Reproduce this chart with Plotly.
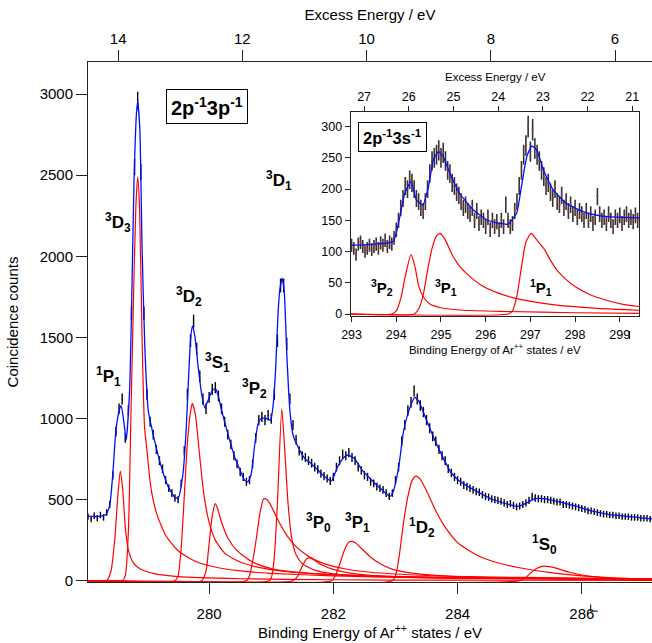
import math
import plotly.graph_objects as go

# ---------------- main spectrum (2p-1 3p-1) ----------------
main_be_start = 278.05
main_be_step = 0.05
main_counts = [
    395, 380, 400, 385, 405, 390, 420, 470, 650, 920,
    1060, 1120, 880, 1050, 1650, 2550, 2960, 2520, 1650, 1150,
    980, 900, 810, 740, 690, 620, 570, 540, 510, 500,
    600, 800, 1150, 1480, 1600, 1430, 1260, 1120, 1060, 1130,
    1180, 1190, 1140, 1060, 980, 900, 840, 770, 720, 670,
    640, 610, 620, 720, 880, 990, 1010, 990, 1020, 1000,
    1150, 1480, 1820, 1820, 1460, 1120, 960, 870, 800, 770,
    760, 740, 725, 700, 685, 660, 645, 630, 615, 640,
    700, 740, 780, 770, 790, 760, 740, 700, 680, 650,
    640, 610, 600, 580, 570, 560, 540, 520, 540, 620,
    700, 860, 960, 1050, 1100, 1170, 1120, 1080, 1040, 990,
    940, 890, 860, 810, 770, 740, 690, 665, 640, 620,
    610, 590, 580, 570, 560, 550, 545, 530, 520, 515,
    505, 500, 495, 490, 480, 470, 475, 465, 455, 460,
    470, 480, 495, 520, 510, 505, 505, 500, 500, 495,
    490, 485, 485, 470, 470, 465, 460, 455, 450, 445,
    440, 430, 430, 425, 420, 415, 410, 410, 405, 405,
    400, 400, 395, 395, 395, 390, 390, 390, 385, 385,
    385, 380,
]
main_be = [round(main_be_start + i * main_be_step, 3) for i in range(len(main_counts))]

fit_be = [278.05, 278.21, 278.34, 278.40, 278.45, 278.50, 278.56, 278.585, 278.63, 278.665,
          278.72, 278.75, 278.79, 278.83, 278.85, 278.885, 278.92, 278.965, 279.02, 279.12,
          279.23, 279.34, 279.44, 279.50, 279.58, 279.63, 279.66, 279.70, 279.73, 279.77,
          279.82, 279.88, 279.93, 279.98, 280.05, 280.10, 280.14, 280.20, 280.30, 280.41,
          280.52, 280.57, 280.625, 280.68, 280.73, 280.79, 280.84, 280.92, 280.99, 281.03,
          281.07, 281.11, 281.14, 281.175, 281.21, 281.25, 281.30, 281.35, 281.43, 281.54,
          281.64, 281.75, 281.86, 281.97, 282.07, 282.18, 282.23, 282.34, 282.45, 282.59,
          282.75, 282.91, 282.96, 283.05, 283.13, 283.23, 283.31, 283.37, 283.50, 283.64,
          283.77, 283.90, 284.04, 284.31, 284.575, 284.84, 284.98, 285.11, 285.25, 285.38,
          285.65, 285.92, 286.19, 286.45, 286.72, 287.00, 287.13]
fit_counts = [398, 396, 410, 466, 662, 929, 1062, 1080, 970, 867,
              1175, 1650, 2450, 2880, 2955, 2780, 2060, 1440, 1050, 867,
              703, 580, 518, 508, 662, 929, 1175, 1480, 1570, 1510,
              1330, 1150, 1065, 1110, 1170, 1185, 1150, 1052, 908, 764,
              662, 620, 610, 662, 826, 970, 1000, 1000, 990, 1080,
              1300, 1650, 1800, 1865, 1780, 1400, 1050, 900, 826, 754,
              723, 682, 641, 616, 703, 764, 775, 754, 690, 630,
              571, 520, 545, 695, 921, 1064, 1130, 1110, 990, 860,
              756, 664, 612, 551, 499, 469, 458, 479, 506, 506,
              485, 458, 427, 407, 397, 386, 382]

# fitted components (binding energy, counts)
c_1P1_be = [278.05, 278.35, 278.42, 278.48, 278.53, 278.57, 278.61, 278.65, 278.70, 278.78, 278.90, 279.10, 279.50, 280.50, 282.00, 284.00, 287.13]
c_1P1_ct = [0, 0, 60, 250, 520, 676, 560, 330, 190, 110, 70, 45, 25, 12, 6, 3, 2]

c_3D3_be = [278.05, 278.60, 278.65, 278.70, 278.74, 278.78, 278.82, 278.85, 278.88, 278.92, 278.96, 279.00, 279.06, 279.15, 279.30, 279.50, 279.75, 280.00, 280.50, 281.00, 282.00, 283.00, 285.00, 287.13]
c_3D3_ct = [0, 0, 30, 300, 1000, 1700, 2300, 2490, 2300, 1500, 950, 800, 580, 420, 280, 185, 125, 92, 60, 45, 30, 22, 14, 10]

c_3D2_be = [278.05, 279.45, 279.50, 279.55, 279.60, 279.65, 279.70, 279.73, 279.78, 279.85, 279.92, 280.00, 280.10, 280.25, 280.50, 280.80, 281.20, 282.00, 283.00, 285.00, 287.13]
c_3D2_ct = [0, 0, 30, 200, 520, 850, 1040, 1093, 1020, 760, 520, 360, 250, 170, 115, 82, 58, 38, 25, 15, 10]

c_3S1_be = [278.05, 279.88, 279.95, 280.00, 280.05, 280.10, 280.14, 280.20, 280.30, 280.45, 280.70, 281.00, 281.50, 282.50, 284.00, 287.13]
c_3S1_ct = [0, 0, 60, 230, 400, 475, 440, 360, 265, 185, 115, 75, 48, 30, 18, 10]

c_3P2_be = [278.05, 280.60, 280.65, 280.70, 280.76, 280.82, 280.88, 280.93, 281.00, 281.10, 281.25, 281.40, 281.60, 281.85, 282.20, 282.60, 283.50, 285.00, 287.13]
c_3P2_ct = [0, 0, 30, 120, 260, 420, 505, 500, 460, 380, 280, 210, 150, 105, 72, 52, 32, 20, 12]

c_3D1_be = [278.05, 280.97, 281.01, 281.05, 281.10, 281.17, 281.22, 281.27, 281.33, 281.40, 281.50, 281.70, 282.00, 282.50, 283.50, 285.00, 287.13]
c_3D1_ct = [0, 0, 30, 150, 480, 1060, 790, 480, 260, 160, 105, 65, 42, 28, 18, 12, 8]

c_3P0_be = [278.05, 281.35, 281.42, 281.50, 281.57, 281.62, 281.70, 281.80, 282.00, 282.30, 282.80, 284.00, 287.13]
c_3P0_ct = [0, 0, 25, 90, 135, 140, 125, 100, 70, 45, 28, 15, 6]

c_3P1_be = [278.05, 281.97, 282.03, 282.10, 282.17, 282.24, 282.29, 282.35, 282.45, 282.60, 282.80, 283.00, 283.40, 284.00, 285.00, 287.13]
c_3P1_ct = [0, 0, 30, 100, 180, 235, 243, 235, 200, 145, 95, 65, 40, 25, 15, 8]

c_1D2_be = [278.05, 282.95, 283.00, 283.06, 283.12, 283.20, 283.27, 283.33, 283.40, 283.50, 283.65, 283.80, 284.00, 284.30, 284.60, 285.00, 285.50, 286.00, 286.50, 287.13]
c_1D2_ct = [0, 0, 30, 150, 330, 520, 620, 645, 625, 555, 430, 330, 235, 160, 115, 80, 50, 30, 18, 10]

c_1S0_be = [278.05, 285.00, 285.08, 285.17, 285.27, 285.38, 285.50, 285.65, 285.80, 286.00, 286.30, 286.70, 287.13]
c_1S0_ct = [0, 0, 15, 45, 75, 90, 85, 70, 52, 35, 20, 10, 5]

# ---------------- inset spectrum (2p-1 3s-1) ----------------
inset_be_start = 293.0
inset_be_step = 0.05
inset_counts = [
    110, 105, 95, 112, 115, 108, 100, 105, 110, 103,
    108, 112, 105, 114, 110, 118, 108, 115, 112, 122,
    135, 150, 170, 185, 205, 200, 215, 210, 200, 185,
    180, 170, 165, 180, 200, 225, 245, 250, 255, 262,
    250, 258, 245, 230, 225, 210, 205, 195, 190, 180,
    170, 175, 165, 160, 170, 150, 165, 145, 155, 150,
    140, 155, 135, 150, 140, 148, 135, 150, 140, 175,
    150, 140, 145, 165, 180, 205, 230, 255, 270, 300,
    260, 295, 265, 255, 245, 230, 220, 205, 210, 195,
    185, 200, 180, 175, 190, 170, 180, 165, 175, 160,
    170, 155, 165, 160, 150, 165, 150, 160, 145, 155,
    188, 160, 150, 155, 145, 160, 150, 140, 155, 150,
    158, 145, 155, 160, 150, 155, 148, 158, 150,
]
inset_be = [round(inset_be_start + i * inset_be_step, 3) for i in range(len(inset_counts))]

ifit_be = [292.98, 293.50, 293.93, 294.08, 294.19, 294.33, 294.45, 294.59, 294.72, 294.83,
           294.94, 295.05, 295.20, 295.42, 295.72, 296.02, 296.32, 296.50, 296.69, 296.80,
           296.92, 297.03, 297.14, 297.29, 297.51, 297.81, 298.18, 298.56, 298.93, 299.43]
ifit_counts = [110, 112, 116, 156, 193, 212, 183, 174, 204, 247,
               260, 252, 225, 193, 167, 151, 145, 144, 161, 204,
               252, 269, 263, 231, 199, 177, 164, 157, 155, 154]

i_3P2_be = [292.98, 293.90, 294.00, 294.10, 294.20, 294.33, 294.42, 294.50, 294.60, 294.75, 295.00, 295.50, 296.50, 298.00, 299.43]
i_3P2_ct = [0, 0, 5, 25, 60, 95, 75, 45, 28, 16, 10, 6, 4, 2, 1]
i_3P1_be = [292.98, 294.40, 294.50, 294.60, 294.70, 294.80, 294.90, 294.98, 295.10, 295.25, 295.40, 295.60, 295.90, 296.30, 296.80, 297.50, 298.50, 299.43]
i_3P1_ct = [0, 0, 8, 30, 70, 105, 125, 129, 118, 95, 78, 63, 46, 33, 23, 15, 9, 6]
i_1P1_be = [292.98, 296.50, 296.60, 296.70, 296.80, 296.90, 297.02, 297.15, 297.30, 297.45, 297.60, 297.80, 298.00, 298.30, 298.70, 299.10, 299.43]
i_1P1_ct = [0, 0, 5, 30, 75, 115, 129, 118, 105, 86, 70, 55, 44, 32, 22, 15, 12]

main_ticks = [280, 282, 284, 286]
main_yticks = [0, 500, 1000, 1500, 2000, 2500, 3000]
excess_ticks = [14, 12, 10, 8, 6]
inset_ticks = [293, 294, 295, 296, 297, 298, 299]
inset_yticks = [0, 50, 100, 150, 200, 250, 300]
inset_excess_ticks = [27, 26, 25, 24, 23, 22, 21]

# ---------------- figure ----------------
W, H = 652, 643
ML, MR, MT, MB = 88, 0, 62, 61
PW, PH = W - ML - MR, H - MT - MB


def px2paper(x, y):
    return (x - ML) / PW, (H - MB - y) / PH


FONT = "Liberation Sans, Arial, Helvetica, sans-serif"
RED = "#ff0000"
BLUE = "#0010ff"

fig = go.Figure()

# main data with error bars
fig.add_trace(go.Scatter(
    x=main_be, y=main_counts, mode="markers",
    marker=dict(size=1, color="black"),
    error_y=dict(type="data", array=[math.sqrt(c) for c in main_counts],
                 color="black", thickness=1.4, width=0),
    xaxis="x", yaxis="y", showlegend=False, hoverinfo="skip"))

for bx, by in [(c_1P1_be, c_1P1_ct), (c_3D3_be, c_3D3_ct), (c_3D2_be, c_3D2_ct),
               (c_3S1_be, c_3S1_ct), (c_3P2_be, c_3P2_ct), (c_3D1_be, c_3D1_ct),
               (c_3P0_be, c_3P0_ct), (c_3P1_be, c_3P1_ct), (c_1D2_be, c_1D2_ct),
               (c_1S0_be, c_1S0_ct)]:
    fig.add_trace(go.Scatter(x=bx, y=by, mode="lines",
                             line=dict(color=RED, width=1.2, shape="spline", smoothing=0.6),
                             xaxis="x", yaxis="y", showlegend=False, hoverinfo="skip"))

fig.add_trace(go.Scatter(x=fit_be, y=fit_counts, mode="lines",
                         line=dict(color=BLUE, width=1.3, shape="spline", smoothing=0.5),
                         xaxis="x", yaxis="y", showlegend=False, hoverinfo="skip"))

# invisible trace to carry the top (excess energy) axis
fig.add_trace(go.Scatter(x=[excess_ticks[0], excess_ticks[-1]], y=[0, 0], mode="markers",
                         marker=dict(opacity=0), xaxis="x2", yaxis="y",
                         showlegend=False, hoverinfo="skip"))

# inset
fig.add_trace(go.Scatter(
    x=inset_be, y=inset_counts, mode="markers",
    marker=dict(size=2, color="#cc2222"),
    error_y=dict(type="data", array=[math.sqrt(c) for c in inset_counts],
                 color="#333333", thickness=1.6, width=0),
    xaxis="x3", yaxis="y3", showlegend=False, hoverinfo="skip"))
for bx, by in [(i_3P2_be, i_3P2_ct), (i_3P1_be, i_3P1_ct), (i_1P1_be, i_1P1_ct)]:
    fig.add_trace(go.Scatter(x=bx, y=by, mode="lines",
                             line=dict(color=RED, width=1.2, shape="spline", smoothing=0.6),
                             xaxis="x3", yaxis="y3", showlegend=False, hoverinfo="skip"))
fig.add_trace(go.Scatter(x=ifit_be, y=ifit_counts, mode="lines",
                         line=dict(color=BLUE, width=1.3, shape="spline", smoothing=0.5),
                         xaxis="x3", yaxis="y3", showlegend=False, hoverinfo="skip"))
fig.add_trace(go.Scatter(x=[inset_excess_ticks[0], inset_excess_ticks[-1]], y=[0, 0],
                         mode="markers", marker=dict(opacity=0), xaxis="x4", yaxis="y3",
                         showlegend=False, hoverinfo="skip"))

axis_common = dict(showgrid=False, zeroline=False, showline=True, linecolor="#222222",
                   linewidth=1, ticks="outside", tickcolor="#222222", tickwidth=1)

ix0, iy0 = px2paper(350.7, 315.7)
ix1, iy1 = px2paper(639.0, 112.3)

fig.update_layout(
    width=W, height=H,
    margin=dict(l=ML, r=MR, t=MT, b=MB, autoexpand=False),
    paper_bgcolor="white", plot_bgcolor="white",
    font=dict(family=FONT, color="black"),
    xaxis=dict(domain=[0, 1], anchor="y", range=[278.05, 287.13], tickvals=main_ticks,
               ticklen=11, tickfont=dict(size=15), ticklabelstandoff=7,
               title=dict(text="Binding Energy of Ar<sup>++</sup> states / eV",
                          font=dict(size=15), standoff=4), **axis_common),
    yaxis=dict(domain=[0, 1], anchor="x", range=[-8, 3198], tickvals=main_yticks,
               ticklen=11, tickfont=dict(size=15),
               title=dict(text="Coincidence counts", font=dict(size=15), standoff=17),
               **axis_common),
    xaxis2=dict(overlaying="x", side="top", anchor="y", range=[14.485, 5.405],
                tickvals=excess_ticks, ticklen=11, tickfont=dict(size=15), ticklabelstandoff=0,
                title=dict(text="Excess Energy / eV", font=dict(size=15), standoff=5),
                **axis_common),
    xaxis3=dict(domain=[ix0, ix1], anchor="y3", range=[292.98, 299.43], tickvals=inset_ticks,
                ticklen=5, tickfont=dict(size=12.5), mirror=True, ticklabelstandoff=2,
                title=dict(text="Binding Energy of Ar<sup>++</sup> states / eV",
                           font=dict(size=11.5), standoff=1), **axis_common),
    yaxis3=dict(domain=[iy0, iy1], anchor="x3", range=[-2.7, 323], tickvals=inset_yticks,
                ticklen=5, tickfont=dict(size=12.5), mirror=True, **axis_common),
    xaxis4=dict(overlaying="x3", side="top", anchor="y3", range=[27.30, 20.85],
                tickvals=inset_excess_ticks, ticklen=5, tickfont=dict(size=12.5),
                **axis_common),
)

# labels
labels_main = [
    ("<sup>3</sup>D<sub>3</sub>", 118, 222),
    ("<sup>3</sup>D<sub>2</sub>", 189, 296),
    ("<sup>3</sup>S<sub>1</sub>", 217.5, 362.5),
    ("<sup>1</sup>P<sub>1</sub>", 108, 376),
    ("<sup>3</sup>P<sub>2</sub>", 254, 388),
    ("<sup>3</sup>D<sub>1</sub>", 279, 180),
    ("<sup>3</sup>P<sub>0</sub>", 318, 522),
    ("<sup>3</sup>P<sub>1</sub>", 357.5, 522),
    ("<sup>1</sup>D<sub>2</sub>", 422, 527),
    ("<sup>1</sup>S<sub>0</sub>", 544, 544),
    ("<sup>3</sup>P<sub>2</sub>", 381.7, 287),
    ("<sup>3</sup>P<sub>1</sub>", 445.5, 287),
    ("<sup>1</sup>P<sub>1</sub>", 541.3, 287),
]
annotations = []
for i, (txt, x, y) in enumerate(labels_main):
    xp, yp = px2paper(x, y)
    annotations.append(dict(text="<b>" + txt + "</b>", x=xp, y=yp, xref="paper", yref="paper",
                            showarrow=False, xanchor="center", yanchor="middle",
                            font=dict(size=17 if i < 10 else 15, family=FONT)))
for txt, x, y, size in [("<b>2p<sup>-1</sup>3p<sup>-1</sup></b>", 207, 106.5, 20),
                        ("<b>2p<sup>-1</sup>3s<sup>-1</sup></b>", 392, 136.7, 16.5)]:
    xp, yp = px2paper(x, y)
    annotations.append(dict(text=txt, x=xp, y=yp, xref="paper", yref="paper", showarrow=False,
                            xanchor="center", yanchor="middle", bgcolor="white",
                            bordercolor="black", borderwidth=1, borderpad=4,
                            font=dict(size=size, family=FONT)))
# inset top axis title
xp, yp = px2paper(495, 77)
annotations.append(dict(text="Excess Energy / eV", x=xp, y=yp, xref="paper", yref="paper",
                        showarrow=False, xanchor="center", yanchor="middle",
                        font=dict(size=11.5, family=FONT)))
fig.update_layout(annotations=annotations)

# small marks seen next to tick labels in the original
shapes = []
for (x0, y0, x1, y1) in [(590.7, 604.5, 590.7, 611.2), (590.7, 611.2, 597.7, 611.2),
                         (629.5, 331.0, 629.5, 339.0)]:
    a0, b0 = px2paper(x0, y0)
    a1, b1 = px2paper(x1, y1)
    shapes.append(dict(type="line", xref="paper", yref="paper", x0=a0, y0=b0, x1=a1, y1=b1,
                       line=dict(color="black", width=1)))
fig.update_layout(shapes=shapes)

fig.write_html("out.html", config={"displayModeBar": False},
               post_script="document.body.style.margin='0px';")
